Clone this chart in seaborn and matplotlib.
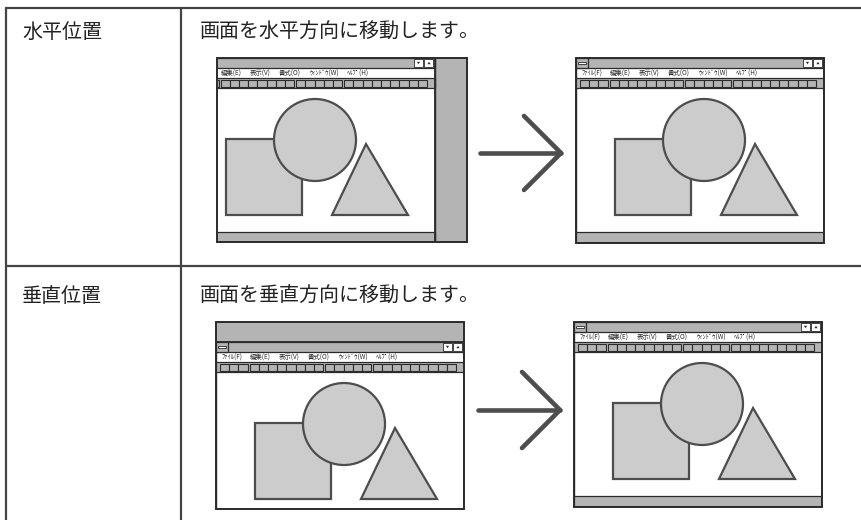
import numpy as np
import seaborn as sns
import matplotlib.pyplot as plt
from matplotlib.patches import Rectangle, Circle, Polygon

sns.set_theme(style="white")
plt.rcParams['font.family'] = ['Noto Sans CJK JP', 'DejaVu Sans']

# table contents
row_labels = ['水平位置', '垂直位置']
row_texts = ['画面を水平方向に移動します。', '画面を垂直方向に移動します。']
row_text_y = [32, 296]

# window menu bar and toolbar
menu_items = ['ﾌｧｲﾙ(F)', '編集(E)', '表示(V)', '書式(O)', 'ｳｨﾝﾄﾞｳ(W)', 'ﾍﾙﾌﾟ(H)']
menu_x = [6, 34, 63, 92, 123, 160]
toolbar_groups = [3, 8, 5, 9]

# shapes drawn in the window (window-relative pixels)
square_xy = (39, 81)
square_size = 76
circle_center = (128, 82)
circle_r = 41
triangle_pts = [(179, 86), (145, 157), (221, 157)]

# (window left, window top, visible frame x, y, w, h)
windows = [
    (187, 58, 217, 58, 250, 184),   # horizontal: before
    (576, 58, 576, 58, 248, 185),   # horizontal: after
    (216, 342, 216, 322, 248, 187),  # vertical: before
    (574, 322, 574, 322, 248, 185),  # vertical: after
]

# arrows: (x start, x tip, y, chevron half height)
arrows = [(480, 561, 153, 37), (478, 560, 410, 38)]

WIN_W, WIN_H = 248, 185
DARK = '#2b2b2b'
EDGE = '#4d4d4d'
GRAY = '#b4b4b4'
LIGHT = '#cccccc'

fig = plt.figure(figsize=(8.62, 5.2), dpi=100)
ax = fig.add_axes([0, 0, 1, 1])
ax.set_xlim(0, 862)
ax.set_ylim(520, 0)
ax.axis('off')

# table grid
line_kw = dict(color='#444444', lw=1.6, solid_capstyle='butt')
ax.plot([5, 862], [8, 8], **line_kw)
ax.plot([6, 6], [8, 520], **line_kw)
ax.plot([181, 181], [8, 520], **line_kw)
ax.plot([6, 862], [266, 266], **line_kw)

for label, text, ty in zip(row_labels, row_texts, row_text_y):
    ax.text(22, ty, label, fontsize=14.4, va='center', ha='left', color='#222222')
    ax.text(200, ty, text, fontsize=14.4, va='center', ha='left', color='#222222')


def draw_window(x0, y0, fx, fy, fw, fh):
    clip = Rectangle((fx, fy), fw, fh, transform=ax.transData)

    def add(p):
        ax.add_patch(p)
        p.set_clip_path(clip)

    # background visible where the window has moved away
    ax.add_patch(Rectangle((fx, fy), fw, fh, fc=GRAY, ec='none'))

    add(Rectangle((x0, y0), WIN_W, WIN_H, fc='white', ec=DARK, lw=1.0))
    # title bar
    add(Rectangle((x0, y0), WIN_W, 10, fc=GRAY, ec=DARK, lw=0.9))
    add(Rectangle((x0, y0), 12, 10, fc=GRAY, ec=DARK, lw=0.9))
    add(Rectangle((x0 + 2, y0 + 4), 8, 2, fc='white', ec=DARK, lw=0.6))
    for bx, up in ((WIN_W - 21, False), (WIN_W - 10.5, True)):
        add(Rectangle((x0 + bx, y0 + 1), 9, 8, fc='white', ec=DARK, lw=0.6))
        cx, cy = x0 + bx + 4.5, y0 + 5
        if up:
            tri = [(cx - 1.6, cy + 1.2), (cx + 1.6, cy + 1.2), (cx, cy - 1.2)]
        else:
            tri = [(cx - 1.6, cy - 1.2), (cx + 1.6, cy - 1.2), (cx, cy + 1.2)]
        add(Polygon(tri, closed=True, fc=DARK, ec='none'))
    # menu bar (items scrolled out of the frame are not shown)
    for label, mx in zip(menu_items, menu_x):
        if x0 + mx < fx:
            continue
        ax.text(x0 + mx, y0 + 15.2, label, fontsize=4.6, va='center',
                ha='left', color=DARK)
    # toolbar
    add(Rectangle((x0, y0 + 20), WIN_W, 10, fc=GRAY, ec=DARK, lw=0.9))
    bx = x0 + 4
    for n in toolbar_groups:
        for i in range(n):
            add(Rectangle((bx, y0 + 21.5), 9.2, 7, fc=GRAY, ec=DARK, lw=0.8))
            bx += 9.2
        bx += 2
    # status bar
    add(Rectangle((x0, y0 + WIN_H - 11), WIN_W, 11, fc=GRAY, ec=DARK, lw=0.9))
    # shapes
    add(Rectangle((x0 + square_xy[0], y0 + square_xy[1]), square_size, square_size,
                  fc=LIGHT, ec=EDGE, lw=1.6))
    add(Circle((x0 + circle_center[0], y0 + circle_center[1]), circle_r,
               fc=LIGHT, ec=EDGE, lw=1.6))
    add(Polygon([(x0 + px, y0 + py) for px, py in triangle_pts], closed=True,
                fc=LIGHT, ec=EDGE, lw=1.6, joinstyle='miter'))
    add(Rectangle((x0, y0), WIN_W, WIN_H, fill=False, ec=DARK, lw=1.3))

    # outer frame of the screen
    ax.add_patch(Rectangle((fx, fy), fw, fh, fill=False, ec=DARK, lw=1.4))


for w in windows:
    draw_window(*w)

for xs, xt, ay, hh in arrows:
    arrow_kw = dict(color=EDGE, lw=3.3, solid_capstyle='round', solid_joinstyle='round')
    ax.plot([xs, xt], [ay, ay], **arrow_kw)
    ax.plot([xt - hh, xt, xt - hh], [ay - hh, ay, ay + hh], **arrow_kw)

fig.savefig('out.png', dpi=100)
